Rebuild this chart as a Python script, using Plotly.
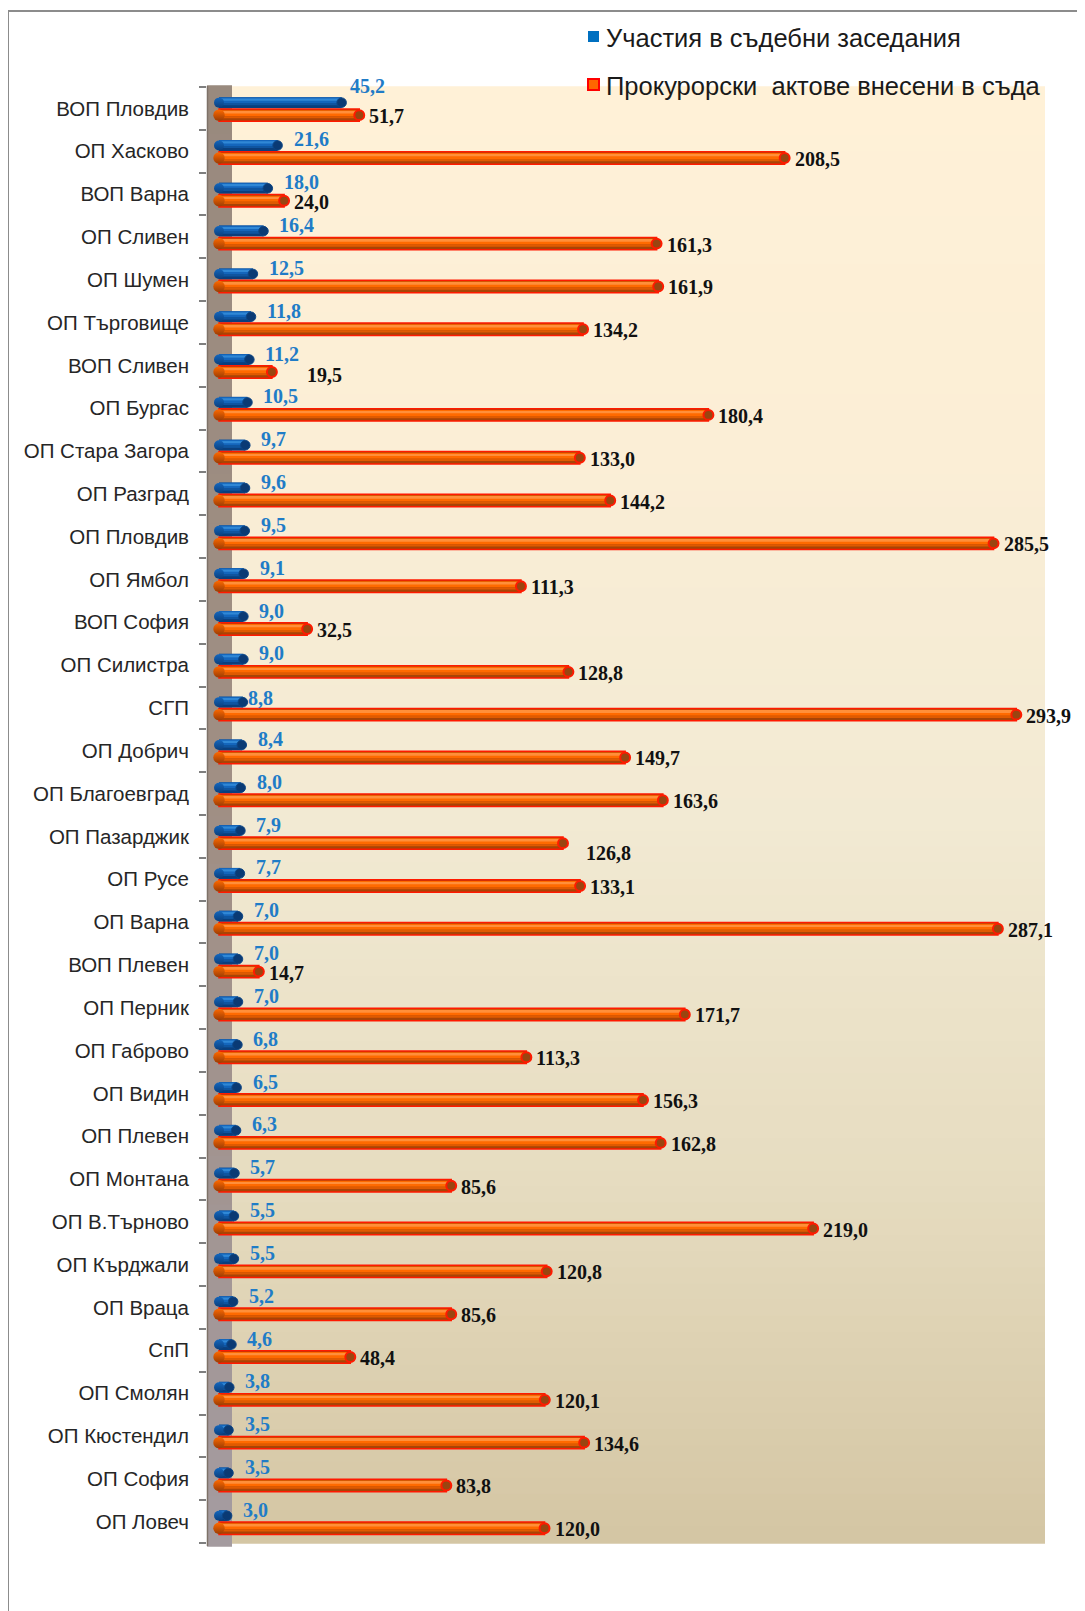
import numpy as np
import plotly.graph_objects as go

# ---------------- data ----------------
categories = [
    "ВОП Пловдив", "ОП Хасково", "ВОП Варна", "ОП Сливен", "ОП Шумен",
    "ОП Търговище", "ВОП Сливен", "ОП Бургас", "ОП Стара Загора", "ОП Разград",
    "ОП Пловдив", "ОП Ямбол", "ВОП София", "ОП Силистра", "СГП",
    "ОП Добрич", "ОП Благоевград", "ОП Пазарджик", "ОП Русе", "ОП Варна",
    "ВОП Плевен", "ОП Перник", "ОП Габрово", "ОП Видин", "ОП Плевен",
    "ОП Монтана", "ОП В.Търново", "ОП Кърджали", "ОП Враца", "СпП",
    "ОП Смолян", "ОП Кюстендил", "ОП София", "ОП Ловеч",
]
participations = [
    45.2, 21.6, 18.0, 16.4, 12.5, 11.8, 11.2, 10.5, 9.7, 9.6,
    9.5, 9.1, 9.0, 9.0, 8.8, 8.4, 8.0, 7.9, 7.7, 7.0,
    7.0, 7.0, 6.8, 6.5, 6.3, 5.7, 5.5, 5.5, 5.2, 4.6,
    3.8, 3.5, 3.5, 3.0,
]
acts = [
    51.7, 208.5, 24.0, 161.3, 161.9, 134.2, 19.5, 180.4, 133.0, 144.2,
    285.5, 111.3, 32.5, 128.8, 293.9, 149.7, 163.6, 126.8, 133.1, 287.1,
    14.7, 171.7, 113.3, 156.3, 162.8, 85.6, 219.0, 120.8, 85.6, 48.4,
    120.1, 134.6, 83.8, 120.0,
]
series_names = ["Участия в съдебни заседания", "Прокурорски  актове внесени в съда"]


def fmt(v):
    return f"{v:.1f}".replace(".", ",")


# ---------------- geometry / style ----------------
PAGE_W, PAGE_H = 1085, 1611
OFF = 8                       # browser body margin
W, H = PAGE_W - OFF, PAGE_H - OFF
L, R, T, B = 207, 1045, 87, 1543   # plot area in page pixels
X0_PX, PX_PER_UNIT = 219, 2.713
x_range = [(L - X0_PX) / PX_PER_UNIT, (R - X0_PX) / PX_PER_UNIT]


def px_x(px):
    return (px - L) / (R - L)


def px_y(py):
    return (B - py) / (B - T)


n = len(categories)
pos = np.arange(n)
band_px = (B - T) / n

STYLE = {
    "blue": dict(center=-0.135, height=0.257,
                 layers=[(0.0, 1.0, "#0A3F7D"), (0.0, 0.56, "#1466BC"),
                         (0.56, 0.74, "#0F55A0"), (0.12, 0.32, "#3088D6")],
                 outline=None, cap="#0A3A74", capline="#0C4686", capline_w=1,
                 lcap="#1466BC", lgrad="#0A3F7D", label_color="#1F7CC7",
                 dx=14, dy=6),
    "acts": dict(center=0.157, height=0.29,
                 layers=[(0.0, 1.0, "#A84406"), (0.1, 0.58, "#FF6A00"),
                         (0.58, 0.76, "#E05A00"), (0.2, 0.36, "#FF8F3A")],
                 outline="#FF1A00", cap="#9A4510", capline="#FF1A00", capline_w=2,
                 lcap="#FF6A00", lgrad="#9A3C04", label_color="#111111",
                 dx=8, dy=-1),
}
LABEL_NUDGE = {
    ("blue", "ВОП Пловдив"): (-8, 11),
    ("blue", "СГП"): (-11, -2),
    ("acts", "ВОП Сливен"): (25, -2),
    ("acts", "ОП Пазарджик"): (13, -9),
}

fig = go.Figure()
series = [("blue", participations), ("acts", acts)]

# bar bodies (layered to mimic cylinders)
for key, vals in series:
    st = STYLE[key]
    top = st["center"] - st["height"] / 2
    for li, (f0, f1, col) in enumerate(st["layers"]):
        line = dict(width=0)
        if li == 0 and st["outline"]:
            line = dict(color=st["outline"], width=1.5)
        fig.add_trace(go.Bar(
            x=vals, y=pos, orientation="h", base=0,
            offset=top + f0 * st["height"], width=(f1 - f0) * st["height"],
            marker=dict(color=col, line=line),
            showlegend=False, hoverinfo="skip",
        ))

# caps
for key, vals in series:
    st = STYLE[key]
    size = st["height"] * band_px
    fig.add_trace(go.Scatter(
        x=[0] * n, y=pos + st["center"], mode="markers",
        marker=dict(size=size - 1, color=st["lcap"],
                    gradient=dict(type="vertical", color=st["lgrad"]),
                    line=dict(width=0)),
        showlegend=False, hoverinfo="skip",
    ))
for key, vals in series:
    st = STYLE[key]
    size = st["height"] * band_px
    fig.add_trace(go.Scatter(
        x=vals, y=pos + st["center"], mode="markers",
        marker=dict(size=size - st["capline_w"] - 0.5, color=st["cap"],
                    line=dict(color=st["capline"], width=st["capline_w"])),
        showlegend=False, hoverinfo="skip",
    ))

# data labels
annotations = []
for key, vals in series:
    st = STYLE[key]
    for i, (cat, v) in enumerate(zip(categories, vals)):
        ndx, ndy = LABEL_NUDGE.get((key, cat), (0, 0))
        annotations.append(dict(
            x=v, y=i + st["center"], xref="x", yref="y",
            text=f"<b>{fmt(v)}</b>", showarrow=False,
            xanchor="left", yanchor="middle",
            xshift=st["dx"] + ndx, yshift=st["dy"] + ndy,
            font=dict(family="Liberation Serif", size=20, color=st["label_color"]),
        ))

# legend (manual)
legend_rows = [
    (series_names[0], 36.5, "#0070C0", None),
    (series_names[1], 84.5, "#FF6600", "#FF0000"),
]
shapes = []


def lerp_color(stops, t):
    for (t0, c0), (t1, c1) in zip(stops[:-1], stops[1:]):
        if t0 <= t <= t1:
            u = (t - t0) / (t1 - t0) if t1 > t0 else 0
            a = [int(c0[k:k + 2], 16) for k in (1, 3, 5)]
            b = [int(c1[k:k + 2], 16) for k in (1, 3, 5)]
            return "#%02x%02x%02x" % tuple(round(a[j] + (b[j] - a[j]) * u) for j in range(3))
    return stops[-1][1]


# plot-area gradient background
bg_stops = [(0.0, "#FFF1D7"), (0.25, "#FBEED6"), (0.5, "#F2EAD3"),
            (0.75, "#E6DCC0"), (1.0, "#D4C6A3")]
NB = 90
for k in range(NB):
    y0 = T + (B - T) * k / NB
    y1 = T + (B - T) * (k + 1) / NB
    shapes.append(dict(type="rect", xref="paper", yref="paper", layer="below",
                       x0=0, x1=1, y0=px_y(y1) - 0.0005, y1=px_y(y0) + 0.0005,
                       line=dict(width=0),
                       fillcolor=lerp_color(bg_stops, (k + 0.5) / NB)))
# side wall
wall_stops = [(0.0, "#998A7E"), (0.5, "#A08F84"), (1.0, "#A49BA0")]
NW = 30
for k in range(NW):
    y0 = 86 + (1546 - 86) * k / NW
    y1 = 86 + (1546 - 86) * (k + 1) / NW
    shapes.append(dict(type="rect", xref="paper", yref="paper", layer="below",
                       x0=px_x(207), x1=px_x(232), y0=px_y(y1) - 0.0005, y1=px_y(y0) + 0.0005,
                       line=dict(width=0),
                       fillcolor=lerp_color(wall_stops, (k + 0.5) / NW)))
shapes.append(dict(type="line", xref="paper", yref="paper", layer="below",
                   x0=px_x(207.5), x1=px_x(207.5), y0=px_y(1546), y1=px_y(86),
                   line=dict(color="#7E7268", width=1.5)))
# outer frame
shapes.append(dict(type="rect", xref="paper", yref="paper", layer="above",
                   x0=px_x(8), x1=px_x(1200), y0=px_y(1700), y1=px_y(11),
                   line=dict(color="#8C8C8C", width=2), fillcolor="rgba(0,0,0,0)"))
# legend symbols
for name, cy, col, edge in legend_rows:
    shapes.append(dict(type="rect", xref="paper", yref="paper", layer="above",
                       x0=px_x(588), x1=px_x(599), y0=px_y(cy + 5.5), y1=px_y(cy - 5.5),
                       fillcolor=col,
                       line=dict(color=edge if edge else col, width=2 if edge else 0)))
    annotations.append(dict(x=px_x(604), y=px_y(cy + 1.5), xref="paper", yref="paper",
                            text=name, showarrow=False, xanchor="left", yanchor="middle",
                            font=dict(family="Liberation Sans", size=25.5, color="#1A1A1A")))

fig.update_layout(
    width=W, height=H,
    margin=dict(l=L - OFF, r=PAGE_W - R, t=T - OFF, b=PAGE_H - B, pad=0),
    paper_bgcolor="white", plot_bgcolor="white",
    barmode="overlay", showlegend=False,
    shapes=shapes, annotations=annotations,
    xaxis=dict(range=x_range, visible=False, showgrid=False, zeroline=False, fixedrange=True),
    yaxis=dict(range=[n - 0.5, -0.5], tickmode="array", tickvals=list(pos), ticktext=categories,
               ticks="", showgrid=False, zeroline=False, showline=False,
               ticklabelstandoff=17,
               tickfont=dict(family="Liberation Sans", size=20.5, color="#262626"),
               minor=dict(tickmode="linear", tick0=0.5, dtick=1, ticks="outside", ticklen=7,
                          tickcolor="#7F7F7F", tickwidth=1.5, showgrid=False)),
)

fig.write_html("out.html")
